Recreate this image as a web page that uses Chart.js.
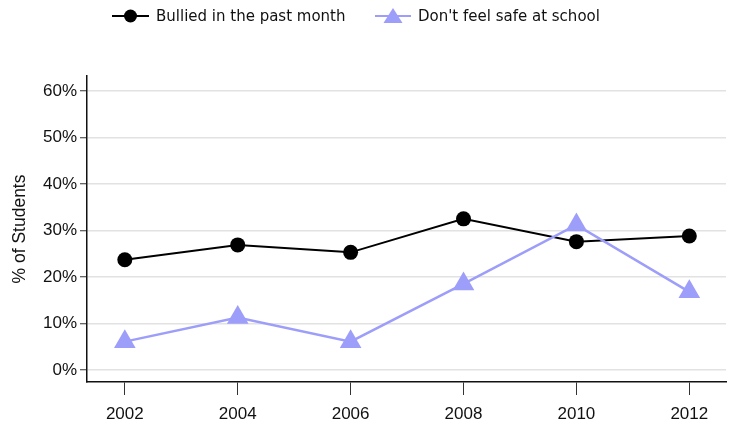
<!DOCTYPE html>
<html>
<head>
<meta charset="utf-8">
<script src="https://cdn.jsdelivr.net/npm/chart.js@4"></script>
<style>
  html, body { margin: 0; padding: 0; background: #fff; }
  #wrap { width: 733px; height: 434px; }
</style>
</head>
<body>
<div id="wrap"><canvas id="chart" width="733" height="434"></canvas></div>
<script>
// Data
const years = [2002, 2004, 2006, 2008, 2010, 2012];
const bullied = [23.7, 26.9, 25.3, 32.5, 27.6, 28.8];
const notSafe = [6.1, 11.3, 6.1, 18.5, 31.2, 16.8];
const yTicks = [0, 10, 20, 30, 40, 50, 60];
const seriesNames = ["Bullied in the past month", "Don't feel safe at school"];

const BLUE = "#9d9dfa";
const tickFont = { family: "'Liberation Sans', Arial, sans-serif", size: 17 };

// Legend with a line through the marker, like the original
const lineLegend = {
    id: "lineLegend",
    afterDraw(chart) {
        const ctx = chart.ctx;
        const y = 16;
        const items = [
            { x: 112, w: 37, text: seriesNames[0], color: "#000", style: "circle" },
            { x: 375, w: 36, text: seriesNames[1], color: BLUE, style: "triangle" }
        ];
        ctx.save();
        ctx.font = "15px 'DejaVu Sans', Verdana, sans-serif";
        ctx.textBaseline = "middle";
        items.forEach(it => {
            const cx = it.x + it.w / 2;
            ctx.strokeStyle = it.color;
            ctx.lineWidth = 2;
            ctx.beginPath();
            ctx.moveTo(it.x, y);
            ctx.lineTo(it.x + it.w, y);
            ctx.stroke();
            ctx.fillStyle = it.color;
            ctx.beginPath();
            if (it.style === "circle") {
                ctx.arc(cx, y, 6.5, 0, Math.PI * 2);
            } else {
                ctx.moveTo(cx, y - 8);
                ctx.lineTo(cx + 9.5, y + 7);
                ctx.lineTo(cx - 9.5, y + 7);
                ctx.closePath();
            }
            ctx.fill();
            ctx.fillStyle = "#111";
            ctx.fillText(it.text, it.x + it.w + 7, y + 1);
        });
        ctx.restore();
    }
};

new Chart(document.getElementById("chart"), {
    type: "line",
    data: {
        datasets: [
            {
                label: seriesNames[0],
                data: years.map((yr, i) => ({ x: yr, y: bullied[i] })),
                borderColor: "#000",
                backgroundColor: "#000",
                borderWidth: 2,
                pointStyle: "circle",
                pointRadius: 7.5,
                pointHoverRadius: 7.5,
                pointBorderWidth: 0,
                order: 1
            },
            {
                label: seriesNames[1],
                data: years.map((yr, i) => ({ x: yr, y: notSafe[i] })),
                borderColor: BLUE,
                backgroundColor: BLUE,
                borderWidth: 2.5,
                pointStyle: "triangle",
                pointRadius: 12.5,
                pointHoverRadius: 12.5,
                pointBorderWidth: 0,
                order: 0
            }
        ]
    },
    options: {
        responsive: false,
        animation: false,
        layout: { autoPadding: false, padding: { top: 76, right: 7, left: 0, bottom: 0 } },
        plugins: {
            legend: { display: false },
            tooltip: { enabled: false }
        },
        scales: {
            x: {
                type: "linear",
                min: 2001.33,
                max: 2012.65,
                afterBuildTicks: (axis) => { axis.ticks = years.map(v => ({ value: v })); },
                afterFit: (axis) => { axis.height = 52; axis.paddingRight = 0; axis.paddingLeft = 0; },
                ticks: {
                    font: tickFont,
                    color: "#111",
                    padding: 9,
                    maxRotation: 0,
                    callback: (v) => String(v)
                },
                grid: {
                    drawOnChartArea: false,
                    drawTicks: true,
                    tickLength: 13,
                    tickColor: "#333",
                    tickWidth: 1
                },
                border: { display: true, color: "#111", width: 1.5 }
            },
            y: {
                min: -2.58,
                max: 63.22,
                afterBuildTicks: (axis) => { axis.ticks = yTicks.map(v => ({ value: v })); },
                afterFit: (axis) => { axis.width = 87; },
                ticks: {
                    font: tickFont,
                    color: "#111",
                    padding: 3,
                    callback: (v) => v + "%"
                },
                grid: {
                    color: "#e2e2e2",
                    lineWidth: 1.5,
                    drawTicks: true,
                    tickLength: 7,
                    tickColor: "#333",
                    tickWidth: 1
                },
                border: { display: true, color: "#111", width: 1.5 },
                title: {
                    display: true,
                    text: "% of Students",
                    font: { family: tickFont.family, size: 17.5 },
                    color: "#111",
                    padding: { top: 10, bottom: 0 }
                }
            }
        }
    },
    plugins: [lineLegend]
});
</script>
</body>
</html>
